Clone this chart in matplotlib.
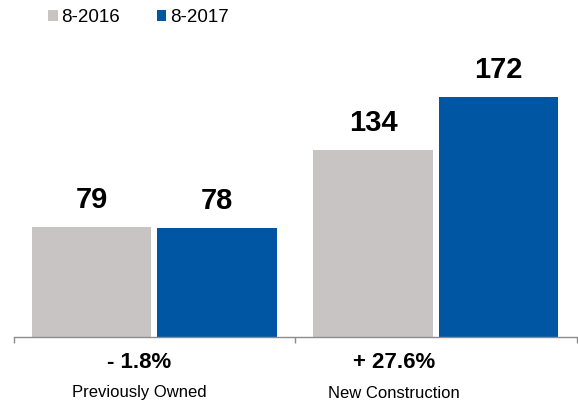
import matplotlib
matplotlib.use("Agg")
import matplotlib.pyplot as plt
import numpy as np

categories = ["Previously Owned", "New Construction"]
series_names = ["8-2016", "8-2017"]
values_2016 = [79, 134]
values_2017 = [78, 172]
change_labels = ["- 1.8%", "+ 27.6%"]

colors = ["#C9C4C4", "#0156A4"]

plt.rcParams["font.family"] = ["Liberation Sans", "DejaVu Sans"]

W, H = 578, 404
fig = plt.figure(figsize=(W / 100, H / 100), dpi=100)
ax = fig.add_axes([13.5 / W, (H - 336.5) / H, 563 / W, 278 / H])

x = np.arange(len(categories))
offset = 0.223
width = 0.426
bars_a = ax.bar(x - offset, values_2016, width, color=colors[0], label=series_names[0])
bars_b = ax.bar(x + offset, values_2017, width, color=colors[1], label=series_names[1])

for bars, vals in ((bars_a, values_2016), (bars_b, values_2017)):
    for b, v in zip(bars, vals):
        ax.annotate(f"{v}", (b.get_x() + b.get_width() / 2, v),
                    xytext=(0, 13.7), textcoords="offset points",
                    ha="center", va="baseline", fontsize=21, fontweight="bold")

ax.set_xlim(-0.5, len(categories) - 0.5)
ax.set_ylim(0, 200)
for s in ("top", "right", "left"):
    ax.spines[s].set_visible(False)
ax.spines["bottom"].set_color("#8C8C8C")
ax.spines["bottom"].set_linewidth(1.0)
ax.set_yticks([])
ax.set_xticks(np.arange(len(categories) + 1) - 0.5)
ax.set_xticklabels([])
ax.tick_params(axis="x", direction="out", length=4, width=1, color="#8C8C8C")

# change and category labels under the axis
label_px = [139, 394]
for px, chg, cat in zip(label_px, change_labels, categories):
    fig.text(px / W, 1 - 367.5 / H, chg, ha="center", va="baseline",
             fontsize=16, fontweight="bold")
    fig.text(px / W, 1 - 397.5 / H, cat, ha="center", va="baseline",
             fontsize=12)

leg = fig.legend(handles=[bars_a, bars_b], loc="upper left",
                 bbox_to_anchor=(35 / W, 1 + 4 / H), ncol=2, frameon=False,
                 fontsize=13.5, handlelength=0.5, handleheight=0.5,
                 handletextpad=0.2, columnspacing=1.95, borderpad=0.2)

fig.savefig("out.png", dpi=100)
